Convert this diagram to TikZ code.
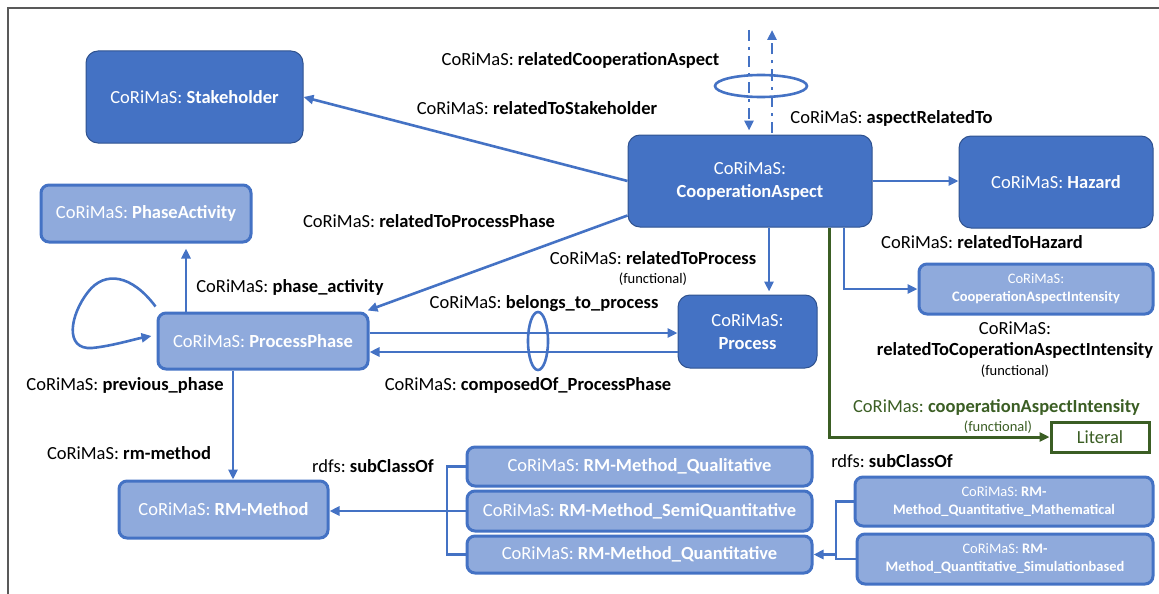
\documentclass[tikz,border=0pt]{standalone}
\usepackage{fontspec}
\setmainfont{Carlito}
\frenchspacing
\usetikzlibrary{arrows.meta,shapes.geometric,calc}
\definecolor{accent}{HTML}{4472C4}
\definecolor{accentdark}{HTML}{2F528F}
\definecolor{accentlight}{HTML}{8FAADC}
\definecolor{litgreen}{HTML}{3B5E24}
\definecolor{framegray}{HTML}{595959}
\tikzset{
  darkbox/.style={draw=accentdark, line width=1pt, fill=accent, rounded corners=12pt,
    text=white, align=center, font=\fontsize{18.5}{23}\selectfont, inner sep=0pt},
  lightbox/.style={draw=accent, line width=3pt, fill=accentlight, rounded corners=8pt,
    text=white, align=center, font=\fontsize{18.5}{23}\selectfont, inner sep=0pt},
  smallbox/.style={lightbox, font=\fontsize{14.5}{18}\selectfont},
  conn/.style={draw=accent, line width=2.6pt},
  arr/.style={conn, -{Triangle[length=10pt,width=9pt]}},
  dashdot/.style={dash pattern=on 11pt off 6pt on 3pt off 6pt},
  lbl/.style={font=\fontsize{18.5}{22}\selectfont, inner sep=0pt, align=center},
  note/.style={font=\fontsize{14.5}{17}\selectfont, inner sep=0pt},
}
\begin{document}
\begin{tikzpicture}[x=1pt,y=-1pt]
\useasboundingbox (0,0) rectangle (1159,594);
% frame lines
\draw[framegray, line width=1.3pt] (8,594) -- (8,8) -- (1159,8);

% classes
\node[darkbox, minimum width=217pt, minimum height=92pt] (stake) at (194.5,97) {CoRiMaS: \textbf{Stakeholder}};
\node[darkbox, minimum width=244pt, minimum height=92pt] (coop) at (750,181) {CoRiMaS:\\\textbf{CooperationAspect}};
\node[darkbox, minimum width=194pt, minimum height=92pt] (hazard) at (1056,182) {CoRiMaS: \textbf{Hazard}};
\node[darkbox, minimum width=139pt, minimum height=73pt] (process) at (747.5,331.5) {CoRiMaS:\\\textbf{Process}};
\node[lightbox, minimum width=210pt, minimum height=57pt] (pact) at (146,213.5) {CoRiMaS: \textbf{PhaseActivity}};
\node[lightbox, minimum width=210pt, minimum height=56pt] (pphase) at (263,341) {CoRiMaS: \textbf{ProcessPhase}};
\node[smallbox, minimum width=234pt, minimum height=50pt] (intens) at (1036,289) {CoRiMaS:\\\textbf{CooperationAspectIntensity}};
\node[draw=litgreen, line width=3pt, fill=white, text=litgreen, minimum width=98pt, minimum height=30pt,
      inner sep=0pt, font=\fontsize{18.5}{22}\selectfont] (literal) at (1100,437) {Literal};
\node[lightbox, minimum width=209pt, minimum height=57pt] (rm) at (223.5,509.5) {CoRiMaS: \textbf{RM-Method}};
\node[lightbox, minimum width=345pt, minimum height=39pt] (qual) at (639.5,466.5) {CoRiMaS: \textbf{RM-Method\_Qualitative}};
\node[lightbox, minimum width=345pt, minimum height=40pt] (semi) at (639.5,511) {CoRiMaS: \textbf{RM-Method\_SemiQuantitative}};
\node[lightbox, minimum width=345pt, minimum height=37pt] (quant) at (639.5,554.5) {CoRiMaS: \textbf{RM-Method\_Quantitative}};
\node[smallbox, minimum width=298pt, minimum height=49pt] (math) at (1004,501.5) {CoRiMaS: \textbf{RM-}\\\textbf{Method\_Quantitative\_Mathematical}};
\node[smallbox, minimum width=296pt, minimum height=50pt] (sim) at (1005,559) {CoRiMaS: \textbf{RM-}\\\textbf{Method\_Quantitative\_Simulationbased}};

% relatedCooperationAspect: reflexive pair around a ring
\coordinate (dtopA) at (749,30);
\coordinate (dtopB) at (772,30);
\node[draw=accent, line width=2.6pt, ellipse, minimum width=92pt, minimum height=22pt, inner sep=0pt] (ring1) at (761,86) {};
\draw[arr, dashdot, shorten >=4pt] (dtopA) -- (dtopA |- coop.north);
\draw[arr, dashdot] ([xshift=22pt,yshift=2pt]coop.north) -- (dtopB);

% object properties of CooperationAspect
\draw[arr] (coop.west) -- (stake.east);
\draw[arr] ([yshift=12pt]coop.south west) -- ([xshift=-2pt,yshift=1pt]pphase.north east);
\draw[arr] (coop.east) -- (coop.east -| hazard.west);
\draw[arr, shorten >=3pt] ([xshift=19pt]coop.south) -- ([xshift=19pt]coop.south |- process.north);
\draw[arr] ([xshift=94pt]coop.south) |- (intens.west);
\draw[draw=litgreen, line width=3pt, -{Triangle[length=10pt,width=9pt]}] ([xshift=79pt]coop.south) |- (literal.west);

% ProcessPhase <-> Process
\draw[arr] ([yshift=8pt]pphase.east) -- ([yshift=8pt]pphase.east -| process.west);
\draw[arr] ([yshift=-11pt]pphase.east -| process.west) -- ([yshift=-11pt]pphase.east);
\node[draw=accent, line width=2.6pt, ellipse, minimum width=20pt, minimum height=58pt, inner sep=0pt] (ring2) at (538,341) {};

% ProcessPhase properties
\draw[arr, shorten >=5pt] ([xshift=-77pt]pphase.north) -- ([xshift=-77pt]pphase.north |- pact.south);
\draw[arr] ([xshift=-30pt]pphase.south) -- ([xshift=-30pt]pphase.south |- rm.north);
\draw[arr] ([xshift=-1pt,yshift=5pt]pphase.north west)
  .. controls (132,275) and (105,270) .. (88,292)
  .. controls (70,315) and (64,350) .. (92,348)
  .. controls (112,346) and (135,339) .. ([xshift=-5pt,yshift=5pt]pphase.west);

% subclass brackets
\coordinate (bxL) at (447,0);
\coordinate (bxR) at (836,0);
\draw[conn] (qual.west) -- (qual.west -| bxL) -- (quant.west -| bxL) -- (quant.west);
\draw[arr] (semi.west) -- (semi.west -| rm.east);
\draw[conn] (math.west) -- (math.west -| bxR) -- (sim.west -| bxR) -- (sim.west);
\draw[arr] (quant.east -| bxR) -- (quant.east);

% property labels
\node[lbl] (lRCA) at (580.5,60) {CoRiMaS: \textbf{relatedCooperationAspect}};
\node[lbl] (lRTS) at (537,108) {CoRiMaS: \textbf{relatedToStakeholder}};
\node[lbl] (lART) at (891.5,118) {CoRiMaS: \textbf{aspectRelatedTo}};
\node[lbl] (lRPP) at (429,221) {CoRiMaS: \textbf{relatedToProcessPhase}};
\node[lbl] (lPA) at (290,287) {CoRiMaS: \textbf{phase\_activity}};
\node[lbl] (lPP) at (125,385) {CoRiMaS: \textbf{previous\_phase}};
\node[lbl] (lRTP) at (653,258) {CoRiMaS: \textbf{relatedToProcess}};
\node[note] (fRTP) at (653,279) {(functional)};
\node[lbl] (lBTP) at (544,304) {CoRiMaS: \textbf{belongs\_to\_process}};
\node[lbl] (lCPP) at (528,385) {CoRiMaS: \textbf{composedOf\_ProcessPhase}};
\node[lbl] (lRTH) at (982,242) {CoRiMaS: \textbf{relatedToHazard}};
\node[lbl] (lRCI1) at (1015,328) {CoRiMaS:};
\node[lbl] (lRCI2) at (1015,350) {\textbf{relatedToCoperationAspectIntensity}};
\node[note] (fRCI) at (1015,371) {(functional)};
\node[lbl, text=litgreen] (lCAI) at (996.5,407) {CoRiMas: \textbf{cooperationAspectIntensity}};
\node[note, text=litgreen] (fCAI) at (998,427) {(functional)};
\node[lbl] (lRM) at (129,453) {CoRiMaS: \textbf{rm-method}};
\node[lbl] (lSubL) at (373,466) {rdfs: \textbf{subClassOf}};
\node[lbl] (lSubR) at (892,461) {rdfs: \textbf{subClassOf}};
\end{tikzpicture}
\end{document}
